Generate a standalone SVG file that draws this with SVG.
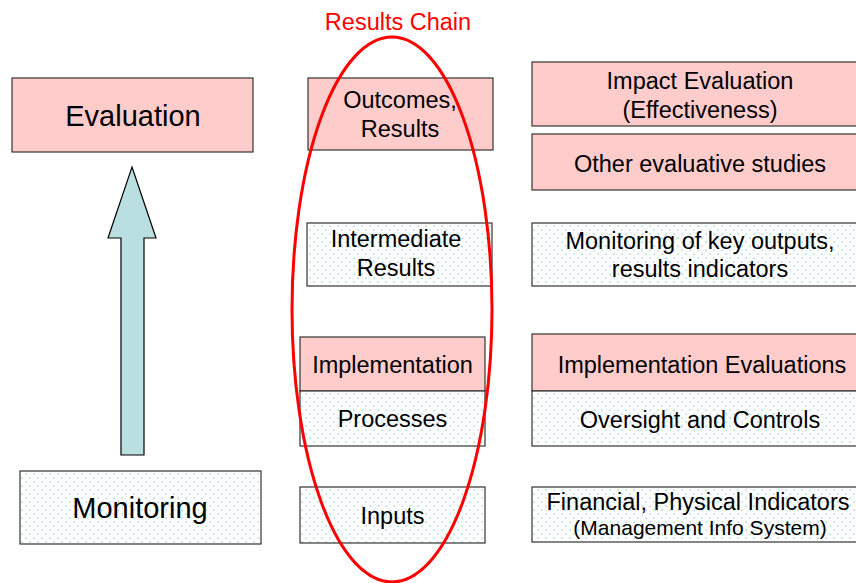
<svg xmlns="http://www.w3.org/2000/svg" width="856" height="583" viewBox="0 0 856 583">
<defs>
<pattern id="dots" x="0" y="0" width="8" height="8" patternUnits="userSpaceOnUse">
<rect width="8" height="8" fill="#ffffff"/>
<rect x="1.4" y="1.4" width="1.5" height="1.5" fill="#a6d9de"/>
<rect x="5.4" y="5.4" width="1.5" height="1.5" fill="#a6d9de"/>
</pattern>
<style>
.pink{fill:#ffcccc;stroke:#333333;stroke-width:1.2}
.dot{fill:url(#dots);stroke:#333333;stroke-width:1.2}
text{font-family:"Liberation Sans",Arial,sans-serif;fill:#000000;text-anchor:middle}
.big{font-size:29px}
.mid{font-size:23.5px}
.sm{font-size:21px}
.red{fill:#ff0000;font-size:23.5px}
</style>
</defs>
<rect width="856" height="583" fill="#ffffff"/>

<g id="evaluation">
<rect class="pink" x="12" y="78" width="241" height="74"/>
<text class="big" x="133" y="126">Evaluation</text>
</g>
<g id="monitoring">
<rect class="dot" x="20" y="471" width="241" height="73"/>
<text class="big" x="140" y="518">Monitoring</text>
</g>

<g id="connectors">
<path d="M132,167 L156,238 L144,238 L144,455 L121,455 L121,238 L108,238 Z" fill="#b9dfe1" stroke="#000000" stroke-width="1.2"/>
</g>

<g id="outcomes">
<rect class="pink" x="308" y="78" width="185" height="72"/>
<text class="mid" x="400" y="108">Outcomes,</text>
<text class="mid" x="400" y="137">Results</text>
</g>
<g id="intermediate">
<rect class="dot" x="307" y="223" width="185" height="63"/>
<text class="mid" x="396" y="247">Intermediate</text>
<text class="mid" x="396" y="276">Results</text>
</g>
<g id="implementation">
<rect class="pink" x="300" y="337" width="185" height="54"/>
<text class="mid" x="392.5" y="373">Implementation</text>
</g>
<g id="processes">
<rect class="dot" x="300" y="391" width="185" height="55"/>
<text class="mid" x="392.5" y="427">Processes</text>
</g>
<g id="inputs">
<rect class="dot" x="300" y="487" width="185" height="56"/>
<text class="mid" x="392.5" y="524">Inputs</text>
</g>

<g id="impact">
<rect class="pink" x="532" y="62" width="340" height="64"/>
<text class="mid" x="700" y="89">Impact Evaluation</text>
<text class="mid" x="700" y="118">(Effectiveness)</text>
</g>
<g id="other">
<rect class="pink" x="532" y="134" width="340" height="56"/>
<text class="mid" x="700" y="172">Other evaluative studies</text>
</g>
<g id="keyoutputs">
<rect class="dot" x="532" y="223" width="340" height="63"/>
<text class="mid" x="700" y="249">Monitoring of key outputs,</text>
<text class="mid" x="700" y="277">results indicators</text>
</g>
<g id="impleval">
<rect class="pink" x="532" y="334" width="340" height="57"/>
<text class="mid" x="702" y="373">Implementation Evaluations</text>
</g>
<g id="oversight">
<rect class="dot" x="532" y="391" width="340" height="55"/>
<text class="mid" x="700" y="428">Oversight and Controls</text>
</g>
<g id="financial">
<rect class="dot" x="532" y="487" width="340" height="55"/>
<text class="mid" x="698" y="510">Financial, Physical Indicators</text>
<text class="sm" x="700" y="535">(Management Info System)</text>
</g>

<g id="resultschain">
<ellipse cx="392" cy="309.5" rx="100" ry="272.5" fill="none" stroke="#ff0000" stroke-width="3"/>
<text class="red" x="398" y="30">Results Chain</text>
</g>
</svg>
